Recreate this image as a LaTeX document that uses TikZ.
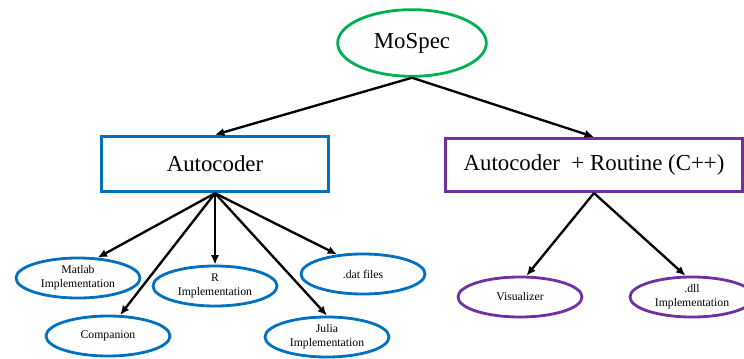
\documentclass[tikz,border=0pt]{standalone}
\usepackage{fontspec}
\setmainfont{Liberation Serif}
\usepackage{xcolor}
\usetikzlibrary{shapes.geometric,arrows.meta}

\definecolor{specgreen}{RGB}{0,176,80}
\definecolor{coderblue}{RGB}{0,112,192}
\definecolor{routinepurple}{RGB}{112,48,160}

\tikzset{
  bigfont/.style={font=\fontsize{19.5}{23}\selectfont},
  smallfont/.style={font=\fontsize{10}{12}\selectfont},
  leaf/.style={ellipse,draw,line width=2.4pt,inner sep=0pt,minimum width=3.72cm,minimum height=1.2cm,align=center,smallfont},
  box/.style={rectangle,draw,line width=2.4pt,inner sep=0pt,bigfont}
}

\begin{document}
\begin{tikzpicture}[x=0.03cm,y=-0.03cm,line width=2pt,>={Latex[length=8pt,width=7pt]}]
\useasboundingbox (0,0) rectangle (744,358);

\node (MS)[ellipse,draw=specgreen,line width=2.4pt,inner sep=0pt,minimum width=4.46cm,minimum height=2cm,bigfont] at (412,43) {MoSpec};

\node (AC)[box,draw=coderblue,minimum width=6.8cm,minimum height=1.67cm] at (215,164) {Autocoder};
\node (ACR)[box,draw=routinepurple,minimum width=8.9cm,minimum height=1.6cm] at (594,165) {Autocoder\enspace+ Routine (C++)};

\node (ML)[leaf,draw=coderblue] at (78,278) {Matlab\\Implementation};
\node (CP)[leaf,draw=coderblue] at (108,336) {Companion};
\node (RI)[leaf,draw=coderblue] at (215,286) {R\\Implementation};
\node (JI)[leaf,draw=coderblue] at (327,337) {Julia\\Implementation};
\node (DF)[leaf,draw=coderblue] at (363,274) {.dat files};

\node (VZ)[leaf,draw=routinepurple] at (520,297) {Visualizer};
\node (DL)[leaf,draw=routinepurple] at (692,297) {.dll\\Implementation};

\draw[->] (MS.south) -- (AC.north);
\draw[->] (MS.south) -- (ACR.north);

\draw[->] (AC.south) -- (ML.46);
\draw[->] (AC.south) -- (CP.60);
\draw[->] (AC.south) -- (RI.north);
\draw[->] (AC.south) -- (JI.north);
\draw[->] (AC.south) -- (DF.143);

\draw[->] (ACR.south) -- (VZ.73);
\draw[->] (ACR.south) -- (DL.107);
\end{tikzpicture}
\end{document}
